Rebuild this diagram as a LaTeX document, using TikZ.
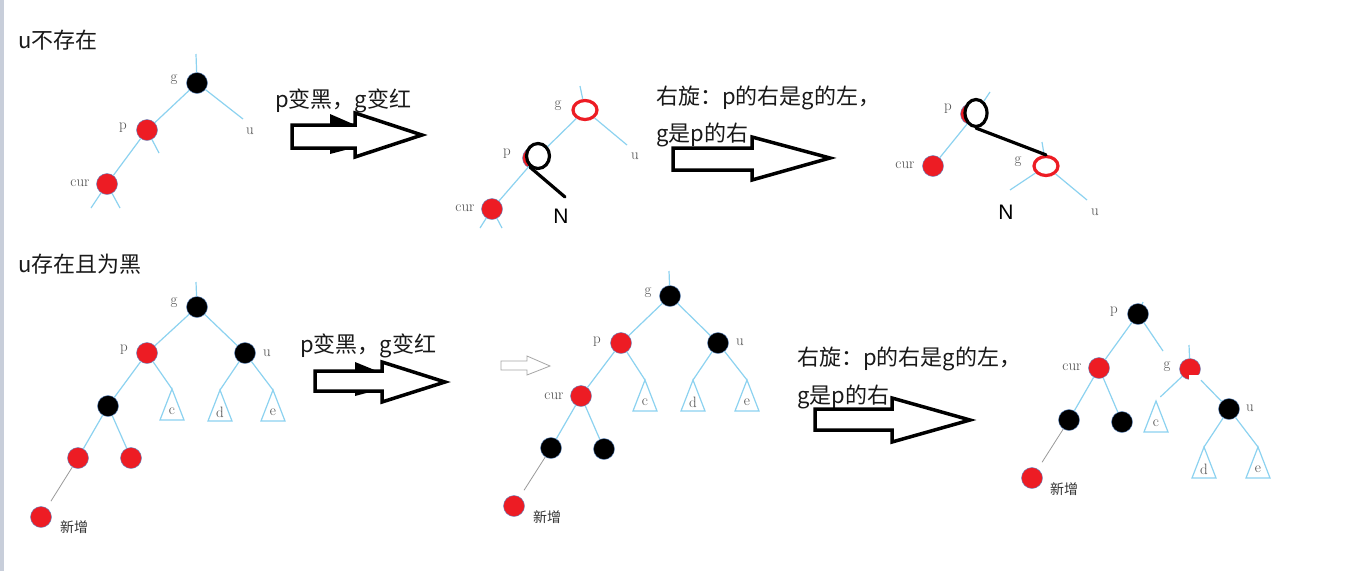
\documentclass[tikz,border=0pt]{standalone}
\usepackage{fontspec}
\newfontfamily\cjk{Noto Sans CJK SC}
\newfontfamily\arialfont{Liberation Sans}
\usetikzlibrary{shapes,positioning}
\definecolor{treeblue}{RGB}{140,210,240}
\definecolor{nodered}{RGB}{237,28,36}
\definecolor{rimblue}{RGB}{95,140,200}
\definecolor{labelgray}{RGB}{75,75,75}
\definecolor{bargray}{RGB}{200,206,218}
\newcommand{\leaftri}[4]{%
  \coordinate (#1) at (#2,#3);
  \draw[edge] (#1) -- ++(-12,31) -- ++(24,0) -- cycle;
  \node[lbl] (#1l) at (#2,#3+22) {#4};
}
\begin{document}
\begin{tikzpicture}[x=1pt, y=-1pt,
  edge/.style={draw=treeblue, line width=1.2pt},
  newedge/.style={draw=gray!80, line width=0.8pt},
  rednode/.style={circle, fill=nodered, draw=rimblue, line width=0.4pt, minimum size=21pt, inner sep=0pt},
  blknode/.style={circle, fill=black, draw=rimblue, line width=0.4pt, minimum size=21pt, inner sep=0pt},
  redring/.style={ellipse, draw=nodered, fill=white, line width=3.2pt, minimum width=24pt, minimum height=19pt, inner sep=0pt},
  penloop/.style={ellipse, draw=black, fill=white, line width=3.2pt, inner sep=0pt},
  pen/.style={draw=black, line width=3.2pt, line cap=round},
  bigarrow/.style={draw=black, line width=3.5pt, fill=white},
  wedge/.style={fill=black},
  thinarrow/.style={draw=gray!70, line width=0.8pt, fill=white},
  lbl/.style={font=\fontsize{15}{17}\selectfont, text=labelgray, inner sep=0pt},
  head/.style={font=\cjk\fontsize{22}{26}\selectfont, text=black!90, inner sep=0pt, anchor=west},
  newlbl/.style={font=\cjk\fontsize{14}{16}\selectfont, text=black!80, inner sep=0pt, anchor=west},
  bigN/.style={font=\arialfont\fontsize{21}{23}\selectfont, inner sep=0pt}
]
\fill[white] (0,0) rectangle (1364,571);
\useasboundingbox (0,0) rectangle (1364,571);
\fill[bargray] (0,0) rectangle (4,571);

\node[head] (title1) at (18,40) {u不存在};
\node[head] (title2) at (18,264) {u存在且为黑};

\node[blknode] (g1) at (197,83) {};
\node[rednode] (p1) at (147,130) {};
\node[rednode] (cur1) at (107,184) {};
\coordinate (g1up) at (196,54);
\coordinate (u1end) at (243,119);
\coordinate (p1end) at (159,153);
\coordinate (cur1l) at (91,208);
\coordinate (cur1r) at (120,208);
\draw[edge] (g1up) -- (g1);
\draw[edge] (g1) -- (p1);
\draw[edge] (g1) -- (u1end);
\draw[edge] (p1) -- (p1end);
\draw[edge] (p1) -- (cur1);
\draw[edge] (cur1) -- (cur1l);
\draw[edge] (cur1) -- (cur1r);
\node[lbl] (g1l) at (174,80) {g};
\node[lbl] (p1l) at (123,128) {p};
\node[lbl] (cur1lab) at (80,183) {cur};
\node[lbl] (u1l) at (250,131) {u};

\node[head] (step1) at (275,101) {p变黑，g变红};
\draw[bigarrow] (292,125) -- (355,125) -- (355,113) -- (422,135) -- (355,157) -- (355,148) -- (292,148) -- cycle;
\fill[wedge] (330,114) -- (353,124) -- (330,124) -- cycle;
\fill[wedge] (330,149) -- (349,149) -- (330,154) -- cycle;

\node[redring] (g2) at (585,110) {};
\node[rednode] (p2) at (533,158) {};
\node[penloop, minimum width=23pt, minimum height=25pt] (p2x) at (538,156) {};
\node[rednode] (cur2) at (492,209) {};
\coordinate (g2up) at (580,86);
\coordinate (u2end) at (627,145);
\coordinate (n2end) at (565,197);
\coordinate (cur2l) at (480,228);
\coordinate (cur2r) at (502,228);
\draw[edge] (g2up) -- (g2);
\draw[edge] (g2) -- (p2x);
\draw[edge] (g2) -- (u2end);
\draw[edge] (p2x) -- (cur2);
\draw[edge] (cur2) -- (cur2l);
\draw[edge] (cur2) -- (cur2r);
\draw[pen] (p2x.235) -- (n2end);
\node[lbl] (g2l) at (558,106) {g};
\node[lbl] (p2l) at (507,154) {p};
\node[lbl] (cur2lab) at (465,208) {cur};
\node[lbl] (u2l) at (635,156) {u};
\node[bigN] (n2) at (561,216) {N};

\node[head] (step2a) at (656,98) {右旋：p的右是g的左，};
\node[head] (step2b) at (656,135) {g是p的右};
\draw[bigarrow] (673,148) -- (752,148) -- (752,137) -- (830,158) -- (752,180) -- (752,170) -- (673,170) -- cycle;

\node[rednode] (p3) at (971,114) {};
\node[penloop, minimum width=22pt, minimum height=27pt] (p3x) at (976,113) {};
\node[rednode] (cur3) at (933,166) {};
\node[redring] (g3) at (1046,166) {};
\coordinate (p3up) at (990,92);
\coordinate (g3up) at (1042,142);
\coordinate (n3end) at (1010,190);
\coordinate (u3end) at (1087,200);
\draw[edge] (p3x) -- (p3up);
\draw[edge] (p3x) -- (cur3);
\draw[edge] (g3up) -- (g3);
\draw[edge] (g3) -- (n3end);
\draw[edge] (g3) -- (u3end);
\draw[pen] (p3x.south) -- (g3.north);
\node[lbl] (p3l) at (948,109) {p};
\node[lbl] (cur3lab) at (905,165) {cur};
\node[lbl] (g3l) at (1018,162) {g};
\node[lbl] (u3l) at (1095,212) {u};
\node[bigN] (n3) at (1006,212) {N};

\node[blknode] (g4) at (197,307) {};
\node[rednode] (p4) at (147,353) {};
\node[blknode] (u4) at (245,353) {};
\node[blknode] (b4) at (108,406) {};
\node[rednode] (r4a) at (78,458) {};
\node[rednode] (r4b) at (131,458) {};
\node[rednode] (new4) at (41,517) {};
\leaftri{c4}{172}{389}{c}
\leaftri{d4}{220}{390}{d}
\leaftri{e4}{273}{390}{e}
\coordinate (g4up) at (196,282);
\draw[edge] (g4up) -- (g4);
\draw[edge] (g4) -- (p4);
\draw[edge] (g4) -- (u4);
\draw[edge] (p4) -- (b4);
\draw[edge] (p4) -- (c4);
\draw[edge] (u4) -- (d4);
\draw[edge] (u4) -- (e4);
\draw[edge] (b4) -- (r4a);
\draw[edge] (b4) -- (r4b);
\draw[newedge, shorten >=8pt] (r4a) -- (new4);
\node[lbl] (g4l) at (174,303) {g};
\node[lbl] (p4l) at (124,350) {p};
\node[lbl] (u4l) at (267,353) {u};
\node[newlbl] (new4l) at (60,527) {新增};

\node[head] (step3) at (300,346) {p变黑，g变红};
\draw[bigarrow] (315,371) -- (382,371) -- (382,362) -- (445,382) -- (382,402) -- (382,391) -- (315,391) -- cycle;
\fill[wedge] (355,362) -- (377,371) -- (355,371) -- cycle;
\fill[wedge] (355,392) -- (370,392) -- (355,396) -- cycle;
\draw[thinarrow] (501,361) -- (527,361) -- (527,356) -- (550,366) -- (527,375) -- (527,370) -- (501,370) -- cycle;

\node[blknode] (g5) at (670,296) {};
\node[rednode] (p5) at (621,343) {};
\node[blknode] (u5) at (718,343) {};
\node[rednode] (cur5) at (581,396) {};
\node[blknode] (b5a) at (551,448) {};
\node[blknode] (b5b) at (604,449) {};
\node[rednode] (new5) at (514,506) {};
\leaftri{c5}{645}{380}{c}
\leaftri{d5}{693}{380}{d}
\leaftri{e5}{747}{380}{e}
\coordinate (g5up) at (669,271);
\draw[edge] (g5up) -- (g5);
\draw[edge] (g5) -- (p5);
\draw[edge] (g5) -- (u5);
\draw[edge] (p5) -- (cur5);
\draw[edge] (p5) -- (c5);
\draw[edge] (u5) -- (d5);
\draw[edge] (u5) -- (e5);
\draw[edge] (cur5) -- (b5a);
\draw[edge] (cur5) -- (b5b);
\draw[newedge, shorten >=8pt] (b5a) -- (new5);
\node[lbl] (g5l) at (648,293) {g};
\node[lbl] (p5l) at (597,342) {p};
\node[lbl] (u5l) at (740,342) {u};
\node[lbl] (cur5lab) at (554,396) {cur};
\node[newlbl] (new5l) at (533,517) {新增};

\node[head] (step4a) at (797,359) {右旋：p的右是g的左，};
\node[head] (step4b) at (797,397) {g是p的右};
\draw[bigarrow] (815,409) -- (892,409) -- (892,398) -- (970,420) -- (892,442) -- (892,430) -- (815,430) -- cycle;

\node[blknode] (p6) at (1138,314) {};
\node[rednode] (cur6) at (1099,368) {};
\node[rednode] (g6) at (1190,369) {};
\fill[white] (1189,375) rectangle (1201,382);
\node[blknode] (u6) at (1229,409) {};
\node[blknode] (b6a) at (1069,420) {};
\node[blknode] (b6b) at (1122,422) {};
\node[rednode] (new6) at (1032,478) {};
\leaftri{c6}{1156}{401}{c}
\leaftri{d6}{1204}{447}{d}
\leaftri{e6}{1258}{447}{e}
\coordinate (p6up) at (1143,302);
\coordinate (p6gend) at (1163,351);
\coordinate (g6up) at (1189,345);
\draw[edge] (p6) -- (p6up);
\draw[edge] (p6) -- (cur6);
\draw[edge] (p6) -- (p6gend);
\draw[edge] (g6up) -- (g6);
\draw[edge, shorten >=6pt] (g6) -- (c6);
\draw[edge, shorten <=5pt] (g6) -- (u6);
\draw[edge] (u6) -- (d6);
\draw[edge] (u6) -- (e6);
\draw[edge] (cur6) -- (b6a);
\draw[edge] (cur6) -- (b6b);
\draw[newedge, shorten >=8pt] (b6a) -- (new6);
\node[lbl] (p6l) at (1114,312) {p};
\node[lbl] (cur6lab) at (1072,367) {cur};
\node[lbl] (g6l) at (1167,367) {g};
\node[lbl] (u6l) at (1250,408) {u};
\node[newlbl] (new6l) at (1050,489) {新增};
\end{tikzpicture}
\end{document}
